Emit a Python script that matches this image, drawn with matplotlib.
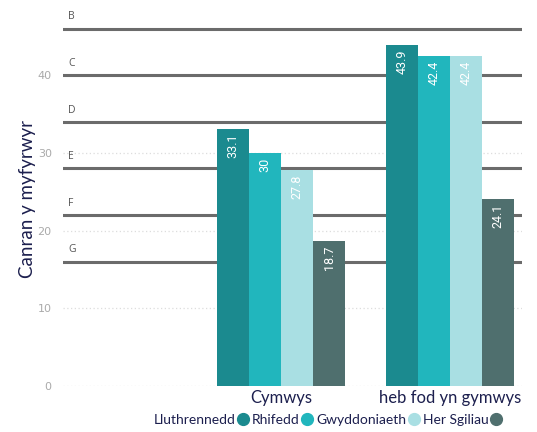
import numpy as np
import matplotlib
matplotlib.use("Agg")
import matplotlib.pyplot as plt

# data
categories = ["Cymwys", "heb fod yn gymwys"]
series = ["Lluthrennedd", "Rhifedd", "Gwyddoniaeth", "Her Sgiliau"]
values = [
    [33.1, 43.9],
    [30, 42.4],
    [27.8, 42.4],
    [18.7, 24.1],
]
colors = ["#1b8a8f", "#21b6bd", "#a9dfe3", "#4f6f6e"]
grade_names = ["B", "C", "D", "E", "F", "G"]
grade_levels = [46, 40, 34, 28, 22, 16]
yticks = [0, 10, 20, 30, 40]

navy = "#1c1f4e"

fig = plt.figure(figsize=(5.37, 4.32), dpi=100)
ax = fig.add_axes([0.117, 0.1065, 0.855, 0.8635])

w = 0.19
x = np.arange(len(categories))
for i, s in enumerate(series):
    pos = x + (i - 1.5) * w
    ax.bar(pos, values[i], width=w, color=colors[i], label=s, zorder=3)
    for p, v in zip(pos, values[i]):
        ax.text(p, v - 0.6, ("%g" % v), rotation=90, ha="center", va="top",
                color="white", fontsize=9, family="Roboto", zorder=4)

# grade boundary lines
for g, lv in zip(grade_names, grade_levels):
    ax.axhline(lv, color="#6b6b6b", lw=2.2, zorder=2)
    ax.text(-1.26, lv + 0.8, g, fontsize=7.5, color="#555555", va="bottom",
            ha="left", family="Open Sans")

# dotted gridlines
for t in yticks:
    ax.axhline(t, color="#dddddd", lw=0.9, ls=(0, (1, 2)), zorder=1)

ax.set_xlim(-1.29, 1.426)
ax.set_ylim(0, 48)
ax.set_yticks(yticks)
ax.set_yticklabels([str(t) for t in yticks], color="#aaaaaa", fontsize=8)
ax.set_xticks(x)
ax.set_xticklabels(categories, color=navy, fontsize=12, family="Lato")
ax.tick_params(axis="both", length=0, pad=3)
ax.tick_params(axis="y", pad=8)
for sp in ax.spines.values():
    sp.set_visible(False)
ax.set_ylabel("Canran y myfyrwyr", color=navy, fontsize=13.5, family="Lato", labelpad=1)

# legend: circle marker after each label
handles = [plt.Line2D([], [], marker="o", ls="", color=c, markersize=8.5) for c in colors]
fig.legend(handles, series, loc="lower center", bbox_to_anchor=(0.61, -0.014), ncol=4,
           frameon=False, markerfirst=False, handlelength=0.8, handletextpad=0.15,
           columnspacing=0.25, labelcolor=navy, prop={"family": "Lato", "size": 10})

fig.savefig("out.png", dpi=100)
